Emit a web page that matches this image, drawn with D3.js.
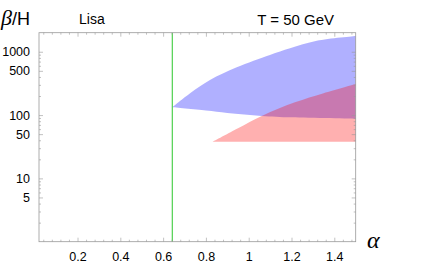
<!DOCTYPE html>
<html>
<head>
<meta charset="utf-8">
<script src="https://cdn.jsdelivr.net/npm/d3@7"></script>
<style>
  body { margin: 0; background: #fff; }
  svg { display: block; font-family: "Liberation Sans", Arial, sans-serif; }
</style>
</head>
<body>
<svg width="436" height="267"></svg>
<script>
// region boundaries: [alpha, beta/H]
var blueUpper = [[0.643, 133], [0.726, 221], [0.819, 358], [0.944, 569], [1.099, 890], [1.193, 1136], [1.318, 1497], [1.5, 1780]];
var blueLower = [[0.643, 133], [0.80, 118], [0.90, 108], [1.06, 97], [1.2, 92], [1.5, 87]];
var redUpper = [[0.832, 38], [0.95, 62], [1.061, 97], [1.216, 159], [1.35, 222], [1.5, 310]];
var redLower = [[0.832, 38], [1.5, 38]];
var alphaLine = 0.643;

var xTicks = [0.2, 0.4, 0.6, 0.8, 1, 1.2, 1.4];
var yTicks = [5, 10, 50, 100, 500, 1000];

var svg = d3.select("svg");
var pLeft = 39, pRight = 355.7, pTop = 32.7, pBottom = 241.7;

var x = d3.scaleLinear().domain([0.02, 1.5]).range([pLeft, pRight]);
var y = d3.scaleLog().domain([1, 2000]).range([pBottom, pTop]);

// minor ticks
var xMinor = d3.range(0.04, 1.5001, 0.04).filter(function (d) {
    return Math.abs(d / 0.2 - Math.round(d / 0.2)) > 1e-6;
});
var yMinor = [];
[1, 10, 100, 1000].forEach(function (p) {
    [2, 3, 4, 6, 7, 8, 9].forEach(function (m) { if (m * p < 2000) yMinor.push(m * p); });
});

var line = d3.line()
    .x(function (d) { return x(d[0]); })
    .y(function (d) { return y(d[1]); })
    .curve(d3.curveCatmullRom.alpha(0.5));

function region(up, low) {
    return line(up) + line(low.slice().reverse()).replace(/^M/, "L") + "Z";
}

svg.append("path")
    .attr("d", region(blueUpper, blueLower))
    .attr("fill", "#0000ff").attr("fill-opacity", 0.31);
svg.append("path")
    .attr("d", region(redUpper, redLower))
    .attr("fill", "#ff0000").attr("fill-opacity", 0.31);

// green line
svg.append("line")
    .attr("x1", x(alphaLine)).attr("x2", x(alphaLine))
    .attr("y1", pTop).attr("y2", pBottom)
    .attr("stroke", "#4fd04f").attr("stroke-width", 1.2);

// frame
svg.append("rect")
    .attr("x", pLeft).attr("y", pTop)
    .attr("width", pRight - pLeft).attr("height", pBottom - pTop)
    .attr("fill", "none").attr("stroke", "#999").attr("stroke-width", 0.8);

function styleAxis(g) {
    g.select(".domain").remove();
    g.selectAll(".tick line").attr("stroke", "#999").attr("stroke-width", 0.6);
    g.selectAll("text").attr("fill", "#000").style("font-size", "12.5px")
        .style("font-family", "'Liberation Sans', Arial, sans-serif");
}

svg.append("g").attr("transform", "translate(0," + pBottom + ")")
    .call(d3.axisBottom(x).tickValues(xTicks).tickSize(-4).tickPadding(10)
        .tickFormat(d3.format("")))
    .call(styleAxis);
svg.append("g").attr("transform", "translate(0," + pBottom + ")")
    .call(d3.axisBottom(x).tickValues(xMinor).tickSize(-2).tickFormat(""))
    .call(styleAxis);
svg.append("g").attr("transform", "translate(0," + pTop + ")")
    .call(d3.axisTop(x).tickValues(xTicks).tickSize(-4).tickFormat(""))
    .call(styleAxis);
svg.append("g").attr("transform", "translate(0," + pTop + ")")
    .call(d3.axisTop(x).tickValues(xMinor).tickSize(-2).tickFormat(""))
    .call(styleAxis);

svg.append("g").attr("transform", "translate(" + pLeft + ",0)")
    .call(d3.axisLeft(y).tickValues(yTicks).tickSize(-4).tickPadding(9)
        .tickFormat(d3.format("d")))
    .call(styleAxis);
svg.append("g").attr("transform", "translate(" + pLeft + ",0)")
    .call(d3.axisLeft(y).tickValues(yMinor).tickSize(-2).tickFormat(""))
    .call(styleAxis);
svg.append("g").attr("transform", "translate(" + pRight + ",0)")
    .call(d3.axisRight(y).tickValues(yTicks).tickSize(-4).tickFormat(""))
    .call(styleAxis);
svg.append("g").attr("transform", "translate(" + pRight + ",0)")
    .call(d3.axisRight(y).tickValues(yMinor).tickSize(-2).tickFormat(""))
    .call(styleAxis);

// labels
var yl = svg.append("text").attr("x", 1).attr("y", 25);
yl.append("tspan").text("β")
    .style("font-family", "'Liberation Serif', 'DejaVu Serif', serif")
    .style("font-style", "italic").style("font-size", "22px");
yl.append("tspan").text("/H").style("font-size", "18px");

svg.append("text").attr("x", 79).attr("y", 24)
    .style("font-size", "14px").text("Lisa");
svg.append("text").attr("x", 334).attr("y", 25).attr("text-anchor", "end")
    .style("font-size", "15px").text("T = 50 GeV");
svg.append("text").attr("x", 367).attr("y", 248)
    .style("font-family", "'Liberation Serif', 'DejaVu Serif', serif")
    .style("font-style", "italic").style("font-size", "24px").text("α");
</script>
</body>
</html>
